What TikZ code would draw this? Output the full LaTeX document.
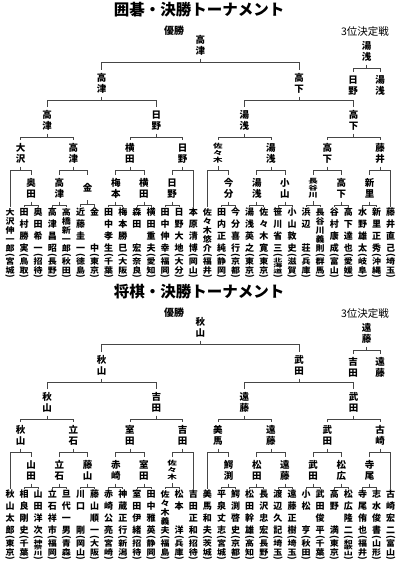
\documentclass[tikz,border=0pt]{standalone}
\usepackage{fontspec}
\usepackage{graphicx}
\newfontfamily\jp{Noto Sans CJK JP}
\definecolor{senGray}{RGB}{70,70,70}

% vertical (tategaki) text
\newcount\TateN
\def\TateEnd{\TateEnd}
\newcommand{\Aki}{}
\newcommand{\Ji}[1]{\vrule height .86em depth .14em width 0pt\relax#1}
\def\TateCount#1{\ifx\TateEnd#1\else\advance\TateN by 1 \expandafter\TateCount\fi}
\def\TateSet#1{\ifx\TateEnd#1\else\TateSep\def\TateSep{\vss}%
  \hbox to 1em{\hss\scalebox{1}[\TateS]{\Ji{#1}}\hss}\expandafter\TateSet\fi}
\newcommand{\Tate}[3]{%
  \TateN=0 \expandafter\TateCount#3\TateEnd
  \pgfmathsetmacro\TateS{min(1,#1/(\the\TateN*#2))}%
  \vbox to #1pt{\offinterlineskip\def\TateSep{}%
    \ifnum\TateN=1 \vss\fi
    \expandafter\TateSet#3\TateEnd
    \ifnum\TateN=1 \vss\fi}}
\newcommand{\Senshu}[2]{\vbox{\offinterlineskip
  \hbox{\Tate{43}{9.5}{#1}}\vskip1.5pt
  \hbox to 1em{\hss\rotatebox{-90}{(}\hss}%
  \hbox{\Tate{16}{9}{#2}}%
  \hbox to 1em{\hss\rotatebox{-90}{)}\hss}}}

% bracket lines
\newcommand{\Kumi}[3]{%
  \draw[sen] (#2.north) |- ([yshift=-4pt]#1.south) -| (#3.north);
  \draw[sen] (#1.south) -- ([yshift=-4pt]#1.south);}
\newcommand{\Tsunagu}[1]{%
  \foreach \p/\l/\r in {a1/p2/p3, a2/p4/p5, a3/p6/p7, a4/p8/p9, a5/p10/p11, a6/p12/p13,
      a7/p16/p17, a8/p18/p19, a9/p20/p21, a10/p22/p23, a11/p24/p25, a12/p26/p27,
      b1/p1/a1, b2/a2/a3, b3/a4/a5, b4/a6/p14, b5/p15/a7, b6/a8/a9, b7/a10/a11, b8/a12/p28,
      q1/b1/b2, q2/b3/b4, q3/b5/b6, q4/b7/b8, f1/q1/q2, f2/q3/q4, w/f1/f2, t/t1/t2}
    {\Kumi{#1\p}{#1\l}{#1\r}}}

\tikzset{
  sen/.style={draw=senGray,line width=0.7pt},
  meishi/.style={anchor=north,inner xsep=0pt,inner ysep=3pt,font=\jp\bfseries\fontsize{9.5}{9.5}\selectfont},
  senshu/.style={anchor=north,inner sep=1pt,font=\jp\bfseries\fontsize{9}{9}\selectfont},
  midashi/.style={inner sep=0pt,font=\jp\bfseries\fontsize{15.5}{15.5}\selectfont},
  komidashi/.style={inner sep=0pt,font=\jp\bfseries\fontsize{10}{10}\selectfont},
  sanni/.style={inner sep=0pt,font=\jp\fontsize{10.5}{10.5}\selectfont},
}

\begin{document}
\begin{tikzpicture}[x=1pt,y=-1pt]
\useasboundingbox (0,0) rectangle (400,561);
\fill[white] (0,0) rectangle (400,561);

% igo
\begin{scope}
\node[midashi] (gMidashi) at (199,10) {囲碁・決勝トーナメント};
\node[komidashi] (gYusho) at (174,30.5) {優勝};
\node[sanni] (gSanni) at (365,31.5) {3位決定戦};
\foreach \shimei/\ken [count=\i] in {大沢伸一郎/宮城, 田村勝実/鳥取, 奥田希一/招待, 高津昌昭/長野,
    高橋新一郎/秋田, 近藤圭一/徳島, 金\Aki\Aki 中/東京, 田中孝生/千葉, 梅本勝巳/大阪, 森田\Aki 宏/奈良,
    横田重夫/愛知, 田中伸幸/福岡, 日野大地/大分, 本原清博/岡山, 佐々木悠介/福井, 田内正純/静岡,
    今分喜行/京都, 湯浅英之/東京, 佐々木寛/東京, 笹川省三/北海道, 小山敦史/滋賀, 浜辺\Aki 荘/兵庫,
    長谷川義則/群馬, 谷村康成/富山, 高下達也/愛媛, 水野雄太/岐阜, 新里正秀/沖縄, 藤井直己/埼玉}
  \node[senshu] (gp\i) at ({10+(\i-1)*14.1},207) {\Senshu{\shimei}{\ken}};
\foreach \id/\col/\lv/\na in {a1/2.5/175/奥田, a2/4.5/175/高津, a3/6.5/175/金, a4/8.5/175/梅本,
    a5/10.5/175/横田, a6/12.5/175/日野, a7/16.5/175/今分, a8/18.5/175/湯浅, a9/20.5/175/小山,
    a10/22.5/175/長谷川, a11/24.5/175/高下, a12/26.5/175/新里,
    b1/1.75/140/大沢, b2/5.5/140/高津, b3/9.5/140/横田, b4/13.25/140/日野,
    b5/15.75/140/佐々木, b6/19.5/140/湯浅, b7/23.5/140/高下, b8/27.25/140/藤井,
    q1/3.625/107/高津, q2/11.375/107/日野, q3/17.625/107/湯浅, q4/25.375/107/高下,
    f1/7.5/70/高津, f2/21.5/70/高下, w/14.5/32/高津}
  \node[meishi] (g\id) at ({10+(\col-1)*14.1},\lv) {\Tate{19}{9.5}{\na}};
\node[meishi] (gt) at (366.5,38) {\Tate{19}{9.5}{湯浅}};
\node[meishi] (gt1) at (353,72) {\Tate{19}{9.5}{日野}};
\node[meishi] (gt2) at (380,72) {\Tate{19}{9.5}{湯浅}};
\Tsunagu{g}
\end{scope}

% shogi
\begin{scope}[shift={(0,282)}]
\node[midashi] (sMidashi) at (199,10) {将棋・決勝トーナメント};
\node[komidashi] (sYusho) at (174,30.5) {優勝};
\node[sanni] (sSanni) at (365,31.5) {3位決定戦};
\foreach \shimei/\ken [count=\i] in {秋山太郎/東京, 相良剛史/千葉, 山田洋次/神奈川, 立石祥市/福岡,
    旦代一男/青森, 川口\Aki 剛/岡山, 藤山順一/大阪, 赤崎公亮/宮崎, 神蔵正行/新潟, 室田伊緒/招待,
    田中雅英/静岡, 佐々木義夫/福島, 松本\Aki 洋/兵庫, 吉田正和/招待, 美馬和夫/茨城, 平泉丈志/宮城,
    鰐渕啓史/京都, 松田幹雄/高知, 長沢忠宏/長野, 渡辺久記/埼玉, 遠藤正樹/埼玉, 小松\Aki 亨/秋田,
    武田俊平/千葉, 高野\Aki 満/東京, 松広隆二/和歌山, 寺尾侑也/福井, 志水俊書/山形, 古崎宏二/富山}
  \node[senshu] (sp\i) at ({10+(\i-1)*14.1},207) {\Senshu{\shimei}{\ken}};
\foreach \id/\col/\lv/\na in {a1/2.5/175/山田, a2/4.5/175/立石, a3/6.5/175/藤山, a4/8.5/175/赤崎,
    a5/10.5/175/室田, a6/12.5/175/佐々木, a7/16.5/175/鰐渕, a8/18.5/175/松田, a9/20.5/175/遠藤,
    a10/22.5/175/武田, a11/24.5/175/松広, a12/26.5/175/寺尾,
    b1/1.75/140/秋山, b2/5.5/140/立石, b3/9.5/140/室田, b4/13.25/140/吉田,
    b5/15.75/140/美馬, b6/19.5/140/遠藤, b7/23.5/140/武田, b8/27.25/140/古崎,
    q1/3.625/107/秋山, q2/11.375/107/吉田, q3/17.625/107/遠藤, q4/25.375/107/武田,
    f1/7.5/70/秋山, f2/21.5/70/武田, w/14.5/32/秋山}
  \node[meishi] (s\id) at ({10+(\col-1)*14.1},\lv) {\Tate{19}{9.5}{\na}};
\node[meishi] (st) at (366.5,38) {\Tate{19}{9.5}{遠藤}};
\node[meishi] (st1) at (353,72) {\Tate{19}{9.5}{吉田}};
\node[meishi] (st2) at (380,72) {\Tate{19}{9.5}{遠藤}};
\Tsunagu{s}
\end{scope}
\end{tikzpicture}
\end{document}
